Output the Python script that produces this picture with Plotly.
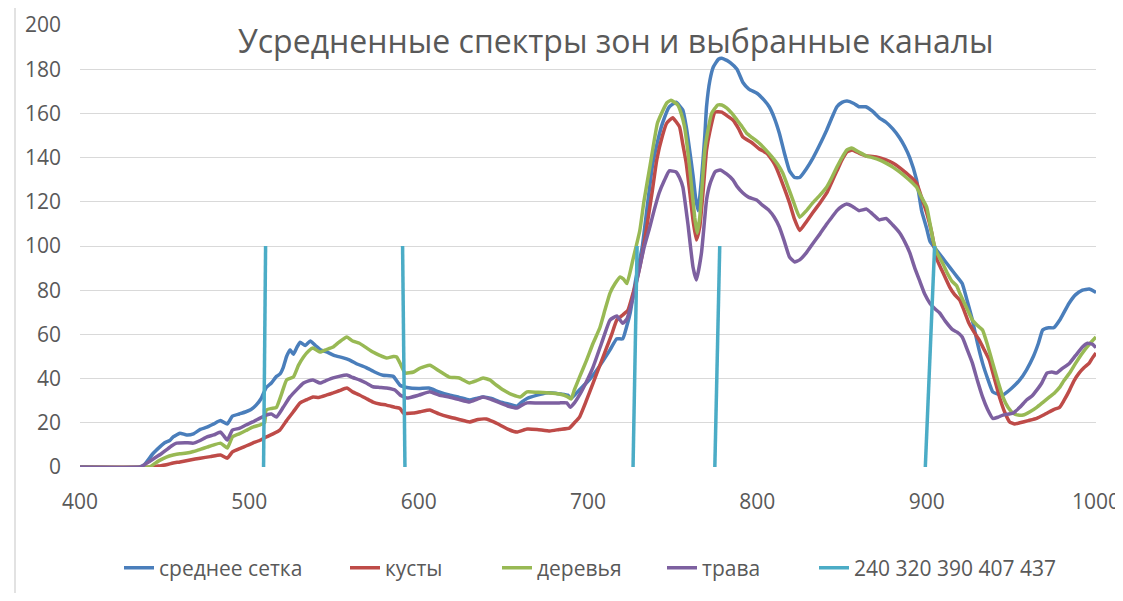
import plotly.graph_objects as go

# ---------------------------------------------------------------------------
# Data
# ---------------------------------------------------------------------------

mean_wl = [400, 435, 438, 443, 447, 450, 453, 455, 459, 463, 467, 471, 475, 479, 483, 487, 490, 494,
           498, 501, 504, 507, 510, 513, 516, 518, 520, 522, 524, 526, 528, 530, 533, 536, 539, 542,
           546, 550, 555, 559, 564, 569, 574, 579, 585, 589, 593, 600, 606, 612, 618, 624, 630, 634,
           638, 643, 648, 653, 658, 661, 664, 670, 675, 679, 684, 688, 690, 695, 699, 703, 708, 713,
           717, 720.5, 723, 725, 728, 732, 735, 738, 741, 744, 748, 752, 756, 758, 760, 762, 763.5,
           765, 767, 769, 770, 772, 774, 777, 779, 782, 784, 788, 791.5, 795, 800, 804, 807, 810,
           813, 816, 819, 822, 825, 829, 833, 837, 841, 844, 847, 850, 853, 857, 860, 864, 868, 872,
           876, 880, 884, 887, 890, 894, 897, 900, 902, 905, 908, 911, 914, 918, 921, 924, 927, 930,
           933, 936, 939, 942, 945, 950, 955, 959, 963, 966, 968.5, 972, 975, 979, 984, 988, 992,
           996, 1000]
mean_val = [0, 0, 1, 6, 9, 11, 12, 13.6, 15.3, 14.5, 15, 17, 18, 19.5, 21, 19.5, 23, 24,
            25, 26, 28, 31, 36, 38, 41, 42, 45, 50, 53, 51, 54, 56.5, 55, 57, 55, 53,
            52, 50.5, 49.5, 48.5, 46.5, 45, 43, 41.5, 41, 37, 36, 35.5, 35.7, 34, 32.6, 31.5, 30.3, 31,
            31.7, 31, 29.5, 28.5, 27.5, 29.5, 31, 32.5, 33.5, 33.5, 33, 32.5, 31, 35, 38, 41.6, 47, 53,
            58, 58, 64, 70, 84, 99.5, 118, 136, 147, 155.6, 163, 165, 161.5, 154, 143.5, 132, 122,
            116, 130, 150, 163, 175, 181, 184.5, 185, 184, 183, 180, 174, 171, 169, 166, 163, 158,
            151, 142, 134, 131, 131, 135, 140, 146, 152.5, 158, 163, 165, 165.6, 164.5, 163, 163, 161, 158,
            156, 153, 149, 145, 140, 130, 116, 108, 102, 99, 96, 93, 90, 86, 83, 75, 66.5, 56,
            47, 40, 34, 33, 32.6, 35.5, 39.4, 44, 50, 56, 62, 63, 63, 67, 74, 78, 80,
            80.5, 79]

bush_wl = [400, 443, 447, 451, 455, 459, 465, 471, 477, 483, 487, 490, 495, 498, 502, 506, 510, 514,
           518, 522, 526, 530, 534, 537.6, 541, 545.8, 549.5, 553, 557.6, 561, 565, 569, 573, 577,
           581, 586, 589, 591, 597, 601, 606.6, 612, 618, 624, 630, 635, 640, 644, 648, 653, 658,
           664, 670, 677.5, 683, 689, 692, 695, 699, 703, 707, 711, 714, 717, 720.5, 723.6, 726,
           728.8, 732, 734.7, 738, 740.6, 744, 746.5, 750, 754, 756, 758, 760, 762, 764, 766, 768,
           770, 772, 775, 779, 782, 785.6, 789, 791.5, 797, 801, 805.5, 809, 811, 815, 819, 822,
           825, 829, 832.7, 837, 841, 844, 847, 850, 852.8, 856, 860, 864.5, 868, 872, 876, 880,
           884, 888, 891, 894, 897, 900, 903, 906, 909, 913.6, 916.5, 919.5, 922, 925, 928, 931,
           934, 937, 940, 943, 946, 949, 952, 955, 960, 965, 969, 972.6, 975, 978.5, 981, 984.4,
           987, 990, 993, 996, 998, 1000]
bush_val = [0, 0, 0.5, 1, 1.8, 2.3, 3.2, 4, 4.7, 5.4, 4, 6.8, 8.5, 9.5, 10.8, 12, 13.6, 15,
            16.7, 21, 25, 29, 30.5, 31.7, 31.5, 32.6, 33.5, 34.5, 35.7, 34, 32.6, 31, 29.4, 28.5,
            28, 27, 26.5, 24.4, 24.4, 25, 25.8, 24, 22.6, 21.5, 20.4, 21.5, 21.7, 20.5, 19, 17, 15.8,
            17.2, 17, 16.3, 17, 17.6, 20, 22.6, 30, 38, 46, 54, 60, 66.5, 68.8, 71, 77,
            84.6, 96, 108.6, 125, 139, 150, 155.6, 158, 154, 146, 137.6, 125, 111.8, 102.7, 108.6, 125,
            143.4, 152, 160.6, 160.6, 159, 157, 153, 149.3, 146.6, 144, 142, 138.5, 135.7, 128, 119.5, 112,
            107, 111, 115, 119.5, 124, 129, 134, 139, 142.5, 143.4, 142, 140.7, 140.5, 140, 139, 137.6,
            135.5, 133, 131, 128.5, 122, 115, 106, 94, 89, 81.4, 78, 75.6, 71, 65, 61, 57.5,
            53, 48.4, 40, 31.7, 25, 20.4, 19.5, 20, 21, 22, 23.5, 25, 26, 27, 30, 34.8,
            39, 42.5, 45, 47, 49.5, 51.6]

tree_wl = [400, 441, 444, 447, 451, 455, 459, 463, 467, 471, 475, 479, 483, 487, 490, 494, 498, 502,
           506, 509, 510, 513, 516, 519, 522, 526, 529, 532, 535, 537.6, 541.7, 545, 549.5, 553,
           557.6, 561, 565, 569, 573, 577, 581, 585, 587, 589, 592, 597, 601, 606.6, 612, 618, 624,
           630, 634, 638, 642, 646, 650, 655.6, 660, 664, 670, 677.5, 683, 687.5, 690, 692, 695,
           699, 703, 707, 710, 713, 716, 719, 721, 723, 726.5, 730.6, 733, 736.5, 741, 744, 746.5,
           749, 753, 755, 757, 760, 763, 764.5, 766, 769, 771, 773, 776.6, 779, 782, 785, 788, 791,
           793.7, 797, 801, 805, 809, 812, 815, 818, 821, 825, 829, 832.7, 837, 841, 844, 847, 850,
           852.8, 855.7, 860, 864.5, 868, 872, 876, 880, 884, 888, 891, 894, 897, 900, 902, 904,
           906, 909.6, 912, 915, 917.7, 919.5, 923, 927, 930, 933, 936, 939, 942, 945, 948, 951,
           954, 957, 961, 965, 969, 972.6, 975.5, 978.5, 981, 984.4, 988, 992, 996, 1000]
tree_val = [0, 0, 1.5, 3, 4.5, 5.4, 6, 6.3, 7, 8, 9, 10, 10.8, 8.6, 13.6, 15, 16.5, 18,
            19, 20, 25.8, 26.5, 27, 33, 39.4, 40.7, 46, 49.8, 52.5, 53.8, 52, 53, 54.3, 56.5,
            58.8, 57, 56, 54, 52, 50.5, 49.3, 50, 49.8, 47, 42.5, 43, 44.8, 46, 43.5, 40.7, 40.3,
            38, 39, 40.3, 39.4, 37, 34.8, 32.6, 31.7, 34, 33.8, 33.5, 33, 32, 30.8, 35, 40.7,
            48, 56, 63, 71, 78.7, 83, 86, 85, 83, 93.7, 107, 120, 135.7, 155.6, 161, 164.7,
            166, 163.8, 160, 154, 135.7, 113, 105.8, 113, 143.4, 153, 160, 163.8, 163.8, 162.4, 160, 157, 154,
            151, 149, 146.6, 143.5, 140, 137, 133, 127, 120.8, 113, 116, 119.5, 123, 126.7, 131, 135.7, 140,
            143.4, 144.3, 142.5, 140.7, 140, 139, 137.5, 135.7, 133.5, 131, 129, 126.7, 122, 117.6, 110, 102,
            97, 92, 88, 84, 82, 78.7, 73, 66.5, 64, 62, 55, 47, 39, 31.7, 27, 24.4,
            23.5, 23.5, 25, 27, 29.5, 31.7, 33.5, 36, 39, 42.5, 47, 51.6, 55.5, 58.8]

grass_wl = [400, 436, 438, 441, 445, 448, 451, 454, 457, 462, 467, 471, 475, 479, 483, 485, 487, 490,
            494, 498, 502, 506, 510, 513, 516, 520, 524, 528, 532, 535, 537.6, 541.7, 545, 549.5,
            553, 557.6, 561, 565, 569, 573, 577, 581, 586, 589, 593, 600, 606.6, 612, 618, 624, 630,
            634, 638, 643, 648, 653, 658, 661, 664, 670, 677.5, 683, 687.5, 689.5, 692, 695, 699,
            703, 708, 713, 717, 720.5, 723, 725, 727, 730.6, 733, 736.5, 739, 742, 745, 748, 752,
            754, 756, 759, 762, 764, 767, 770, 772, 775, 778, 782, 785.6, 788, 791.5, 795, 799.6,
            803, 807, 810, 813, 816, 819, 822, 825, 829, 832.7, 837, 841, 844, 847, 850, 852.8, 856,
            860, 864.5, 868, 872, 876, 880, 884, 887, 890, 893, 896, 899, 902, 905, 907.7, 911,
            915.5, 918, 921, 924, 927, 930, 933, 936, 939, 942, 945, 951, 955, 959, 962, 965, 968,
            971, 974, 976.7, 980, 984.4, 988, 992, 995, 998, 1000]
grass_val = [0, 0, 1, 2.5, 4.5, 6, 7.7, 9.5, 10.8, 11, 10.8, 12, 13.6, 14.5, 15.8, 14, 12.2, 16.7,
             17.5, 19, 20.4, 22, 23.5, 24, 22.6, 27, 31.7, 35, 38, 39, 39.4, 38, 39, 40.3,
             41, 41.6, 40.5, 39.4, 38, 36.3, 36, 35.7, 34.8, 32.6, 31.2, 32.5, 34, 32.5, 31.7, 30.5, 29.4,
             30.5, 31.7, 30.5, 29, 27.5, 26.7, 28, 29, 29, 29, 29, 29, 27, 29, 32.6, 38.5,
             45.2, 56, 66.5, 68.3, 65, 67, 72, 78, 90.5, 99, 108.6, 116, 124, 129.5, 134, 133.5,
             131, 126.7, 110, 90.5, 84.6, 96.8, 120.8, 128, 133.5, 134.4, 132.5, 129.9, 127, 124, 122, 120.8,
             118.5, 116, 113, 108.6, 102, 95, 92.8, 93.7, 97, 101, 105.5, 110, 113, 116, 118, 119, 118,
             116, 116.7, 114.5, 111.8, 112.5, 109.5, 106, 102, 97, 90, 84, 78, 74, 71.5, 69.7, 66,
             62, 61, 58.8, 53, 47, 39, 31.7, 26, 22, 22.5, 23.5, 24.4, 27, 30.3, 32, 34.8, 38,
             42.5, 43, 42.5, 44.5, 47, 50.5, 54.3, 56, 55.5, 54]

# selected channels: wavelength at the foot (0) and at the top (100) of each marker line
channel_wl_bottom = [508.4, 591.9, 726.6, 774.9, 899.2]
channel_wl_top = [509.6, 590.5, 729.0, 777.8, 904.7]
channel_low, channel_high = 0, 100

x_ticks = [400, 500, 600, 700, 800, 900, 1000]
y_ticks = [0, 20, 40, 60, 80, 100, 120, 140, 160, 180, 200]

TITLE = 'Усредненные спектры зон и выбранные каналы'

# ---------------------------------------------------------------------------
# Figure
# ---------------------------------------------------------------------------

FONT = 'Open Sans, Noto Sans, sans-serif'
GRAY_TEXT = '#595959'
GRID = '#d9d9d9'

# the page body keeps its default 8px margin, so the figure starts at (8, 8)
PAGE = 8
W, H = 1123 - PAGE, 601 - 2 * PAGE
# wanted plot area in window pixels: x 80..1096, y 25..467
L = 80 - PAGE
T = 25 - PAGE
R = W - (1096 - PAGE)
B = H - (467 - PAGE)
pw, ph = W - L - R, H - T - B


def px_x(px):
    return (px - PAGE - L) / pw


def px_y(py):
    return (H - B - (py - PAGE)) / ph


# (name, x, y, colour, window pixel where the legend text starts)
series = [
    ('среднее сетка', mean_wl, mean_val, '#4a7ebb', 160),
    ('кусты', bush_wl, bush_val, '#be4b48', 386),
    ('деревья', tree_wl, tree_val, '#98b954', 538),
    ('трава', grass_wl, grass_val, '#7d60a0', 703),
]

fig = go.Figure()
legends = {}
for i, (name, xs, ys, color, text_px) in enumerate(series):
    key = 'legend' if i == 0 else f'legend{i + 1}'
    fig.add_trace(go.Scatter(
        x=xs, y=ys, mode='lines', name=name, legend=key,
        line=dict(color=color, width=3.5, shape='spline', smoothing=0.4),
    ))
    legends[key] = text_px

ch_x, ch_y = [], []
for lo, hi in zip(channel_wl_bottom, channel_wl_top):
    ch_x += [lo, hi, None]
    ch_y += [channel_low, channel_high, None]
fig.add_trace(go.Scatter(
    x=ch_x, y=ch_y, mode='lines', name='240 320 390 407 437', legend='legend5',
    line=dict(color='#4bacc6', width=3.5),
))
legends['legend5'] = 855

legend_layout = {
    key: dict(
        orientation='h', x=px_x(text_px - 41), xanchor='left',
        y=px_y(568), yanchor='middle',
        font=dict(size=21, color=GRAY_TEXT, family=FONT),
        bgcolor='rgba(0,0,0,0)',
    )
    for key, text_px in legends.items()
}

fig.update_layout(
    width=W, height=H,
    margin=dict(l=L, r=R, t=T, b=B, autoexpand=False),
    plot_bgcolor='white', paper_bgcolor='white',
    font=dict(family=FONT, color=GRAY_TEXT, size=21),
    showlegend=True,
    xaxis=dict(
        range=[400, 1000], tickvals=x_ticks, automargin=False,
        showgrid=False, zeroline=False, showline=False,
        ticks='', ticklabelstandoff=20, ticklabeloverflow='allow',
    ),
    yaxis=dict(
        range=[0, 200], tickvals=y_ticks, automargin=False,
        showgrid=True, gridcolor=GRID, gridwidth=1,
        zeroline=False, showline=False,
        ticks='', ticklabelstandoff=18,
    ),
    annotations=[dict(
        text=TITLE, xref='paper', yref='paper',
        x=px_x(616), y=px_y(41), xanchor='center', yanchor='middle',
        showarrow=False, font=dict(size=32, color=GRAY_TEXT, family=FONT),
    )],
    shapes=[dict(
        type='rect', xref='paper', yref='paper',
        x0=px_x(15), x1=px_x(1140), y0=px_y(640), y1=px_y(7),
        line=dict(color=GRID, width=1.5), fillcolor='rgba(0,0,0,0)', layer='below',
    )],
    **legend_layout,
)

fig.write_html('out.html')
